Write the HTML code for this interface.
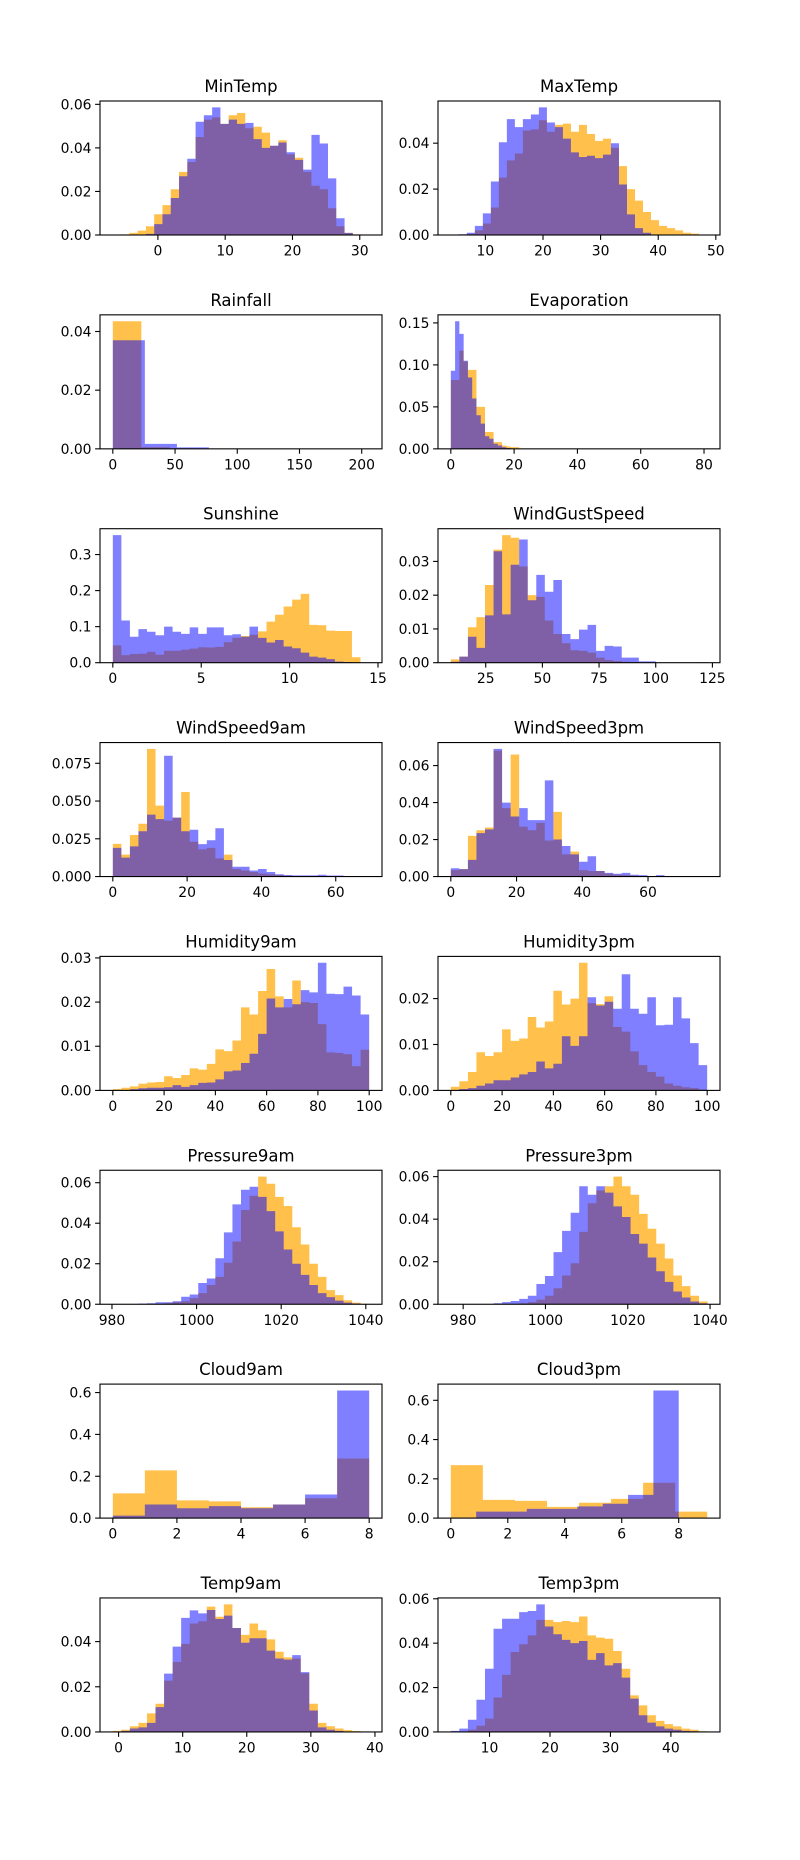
<!DOCTYPE html>
<html><head><meta charset="utf-8"><title>Weather feature histograms</title>
<style>
html,body{margin:0;padding:0;background:#fff;}
svg{display:block;}
text{font-family:"DejaVu Sans","Liberation Sans",sans-serif;fill:#000;}
</style></head>
<body>
<svg id="fig" width="800" height="1860" viewBox="0 0 800 1860" xmlns="http://www.w3.org/2000/svg">
<rect x="0" y="0" width="800" height="1860" fill="#fff"/>
</svg>
<script>
// ---- data (top level) ----
const titles = ["MinTemp","MaxTemp","Rainfall","Evaporation","Sunshine","WindGustSpeed","WindSpeed9am","WindSpeed3pm","Humidity9am","Humidity3pm","Pressure9am","Pressure3pm","Cloud9am","Cloud3pm","Temp9am","Temp3pm"];
// data range [lo, hi] of each variable (axis adds 5% margins)
const dataRanges = [[-6.7,31.4],[4.0,48.5],[0,206],[0,81],[0,14.5],[9.6,122.7],[0,69],[0,78],[0,100],[0,100],[980.2,1040.8],[977.0,1039.3],[0,8],[0,9],[-0.9,39.1],[3.6,46.0]];
// [first bin edge, bin width]
const orangeBins = [[-6.7,1.23],[4.0,1.39],[0,22.9],[0,1.35],[0,0.483],[9.6,3.77],[0,2.3],[0,2.6],[0,3.333],[0,3.333],[980.2,2.02],[977.0,2.08],[0,1],[0,1.125],[-0.9,1.333],[3.6,1.413]];
const blueBins = [[-6.7,1.23],[4.0,1.39],[0,25.75],[0,1.35],[0,0.483],[9.6,3.77],[0,2.3],[0,2.6],[0,3.333],[0,3.333],[980.2,2.02],[977.0,2.08],[0,1],[0,0.889],[-0.9,1.333],[3.6,1.413]];

const minTempOrange = [0,0.0003,0.001,0.002,0.004,0.0095,0.0137,0.021,0.029,0.0335,0.045,0.053,0.054,0.051,0.055,0.056,0.049,0.0497,0.047,0.041,0.0435,0.037,0.0355,0.029,0.0226,0.021,0.0123,0.004,0.001,0.0003,0.0001];
const minTempBlue = [0,0,0,0,0.0005,0.005,0.0095,0.017,0.027,0.035,0.052,0.055,0.0586,0.051,0.053,0.051,0.0515,0.044,0.040,0.041,0.0425,0.038,0.0345,0.030,0.046,0.042,0.026,0.0077,0.001,0,0];
const maxTempOrange = [0,0,0.0005,0.002,0.005,0.012,0.025,0.0325,0.0355,0.0455,0.046,0.050,0.045,0.048,0.0485,0.045,0.048,0.044,0.041,0.042,0.038,0.030,0.020,0.015,0.010,0.0065,0.004,0.003,0.002,0.001,0.0006,0.0002];
const maxTempBlue = [0,0.0003,0.001,0.004,0.0094,0.0233,0.0404,0.0505,0.047,0.0505,0.0525,0.0556,0.049,0.047,0.042,0.036,0.034,0.0345,0.0335,0.035,0.040,0.022,0.009,0.003,0.001,0,0,0,0,0,0,0];
const rainfallOrange = [0.0435,0.0006,0.0002,0.0001,0,0,0,0,0.00005];
const rainfallBlue = [0.037,0.0017,0.0005,0.0001,0,0,0,0];
const evaporationOrange = [0.082,0.082,0.117,0.104,0.094,0.094,0.05,0.05,0.02,0.02,0.008,0.008,0.004,0.003,0.002,0.002];
const evaporationBlue = [0.093,0.152,0.137,0.105,0.085,0.06,0.04,0.03,0.015,0.012,0.006,0.004,0.002,0.001];
const sunshineOrange = [0.048,0.021,0.024,0.025,0.030,0.022,0.033,0.033,0.036,0.039,0.043,0.042,0.044,0.057,0.069,0.074,0.078,0.087,0.114,0.133,0.156,0.175,0.191,0.105,0.104,0.089,0.088,0.088,0.015,0];
const sunshineBlue = [0.354,0.117,0.072,0.093,0.086,0.076,0.100,0.086,0.080,0.098,0.080,0.098,0.098,0.076,0.079,0.072,0.100,0.069,0.056,0.063,0.045,0.040,0.028,0.017,0.014,0.010,0.003,0.002,0.001,0];
const windGustOrange = [0.001,0.0018,0.0105,0.0135,0.023,0.0335,0.0378,0.037,0.0285,0.020,0.0195,0.0125,0.0085,0.0058,0.0037,0.0035,0.003,0.0015,0.0008,0.0005,0.0003,0.0002,0,0,0,0,0,0,0,0];
const windGustBlue = [0.0003,0.0018,0.0077,0.0044,0.014,0.033,0.0143,0.029,0.0365,0.0185,0.026,0.021,0.0245,0.0085,0.007,0.0098,0.0112,0.0035,0.005,0.0048,0.0015,0.0015,0.0004,0.0004,0,0,0,0,0,0.0001];
const wind9Orange = [0.0216,0.0145,0.0275,0.035,0.0845,0.047,0.037,0.039,0.056,0.023,0.018,0.019,0.012,0.0145,0.005,0.004,0.003,0.002,0.0015,0.001,0.0005,0.0004,0.0003,0.0002,0.0001,0,0,0,0,0];
const wind9Blue = [0.019,0.0125,0.020,0.030,0.041,0.038,0.080,0.039,0.030,0.031,0.0215,0.024,0.032,0.011,0.0065,0.0065,0.004,0.005,0.003,0.0015,0.001,0.0008,0.0008,0.0008,0.0012,0.0007,0.0007,0,0,0.0001];
const wind3Orange = [0.0035,0.004,0.022,0.025,0.0265,0.068,0.037,0.066,0.027,0.025,0.029,0.0195,0.035,0.012,0.0135,0.0035,0.003,0.003,0.0015,0.001,0.0008,0.0005,0.0003,0.0002,0,0,0,0,0,0];
const wind3Blue = [0.0045,0.004,0.009,0.0235,0.0255,0.069,0.040,0.0325,0.037,0.0305,0.0305,0.052,0.020,0.0165,0.012,0.008,0.011,0.003,0.002,0.0015,0.002,0.001,0.0008,0.0003,0.0008,0,0,0,0,0.0001];
const hum9Orange = [0.0003,0.0006,0.0009,0.0015,0.0018,0.0019,0.0032,0.0028,0.0035,0.005,0.0047,0.006,0.0093,0.0089,0.0113,0.0188,0.0172,0.0225,0.0275,0.0213,0.0188,0.0249,0.020,0.0198,0.015,0.0086,0.0085,0.0082,0.0055,0.0092];
const hum9Blue = [0,0.0001,0.0003,0.0005,0.0006,0.0006,0.0007,0.0012,0.0008,0.0012,0.0017,0.0018,0.0025,0.0043,0.0045,0.0062,0.0083,0.0128,0.0208,0.0188,0.0207,0.0195,0.0227,0.0222,0.0289,0.0219,0.0218,0.0235,0.0215,0.0172];
const hum3Orange = [0.0008,0.002,0.004,0.0083,0.0075,0.0083,0.0133,0.0108,0.0113,0.016,0.0137,0.015,0.0217,0.0187,0.020,0.0278,0.019,0.0188,0.0205,0.0138,0.0128,0.0085,0.0055,0.004,0.003,0.0015,0.001,0.0007,0.0005,0.0002];
const hum3Blue = [0,0.0003,0.0005,0.001,0.0015,0.0022,0.0022,0.0028,0.0035,0.004,0.0063,0.0048,0.0058,0.0118,0.0097,0.0118,0.0203,0.0185,0.0193,0.0178,0.0253,0.0178,0.0167,0.0203,0.0142,0.0143,0.0203,0.0157,0.0103,0.0055];
const pres9Orange = [0,0,0,0,0,0.0002,0.0005,0.001,0.0015,0.003,0.0055,0.0095,0.0135,0.0205,0.031,0.0465,0.0535,0.063,0.0595,0.053,0.0485,0.038,0.0295,0.020,0.0135,0.007,0.0045,0.002,0.0008,0.0002];
const pres9Blue = [0,0,0,0.0003,0.0005,0.001,0.001,0.0015,0.0037,0.0048,0.0105,0.0127,0.0227,0.0355,0.0493,0.0565,0.058,0.053,0.046,0.036,0.027,0.020,0.0145,0.0095,0.0055,0.0035,0.0018,0.0008,0.0004,0.0001];
const pres3Orange = [0,0,0,0,0,0,0,0,0.0005,0.001,0.0022,0.004,0.0075,0.0135,0.0193,0.034,0.0475,0.0535,0.0555,0.060,0.0555,0.0515,0.0425,0.0355,0.0285,0.0215,0.0135,0.0085,0.004,0.0013];
const pres3Blue = [0,0,0,0,0,0.0005,0.001,0.0015,0.0025,0.004,0.0095,0.0133,0.0245,0.0345,0.043,0.0555,0.0515,0.0555,0.0525,0.046,0.041,0.033,0.0285,0.022,0.0155,0.0105,0.006,0.0032,0.0013,0.0005];
const cloud9Orange = [0.118,0.228,0.085,0.08,0.052,0.065,0.095,0.285];
const cloud9Blue = [0.012,0.065,0.047,0.057,0.047,0.065,0.113,0.610];
const cloud3Orange = [0.27,0.093,0.088,0.057,0.078,0.098,0.18,0.033];
const cloud3Blue = [0.003,0.033,0.033,0.047,0.047,0.06,0.073,0.118,0.65];
const temp9Orange = [0.0005,0.001,0.0025,0.004,0.0082,0.0125,0.0227,0.031,0.039,0.048,0.049,0.0555,0.051,0.0565,0.046,0.043,0.048,0.045,0.041,0.0355,0.033,0.0325,0.026,0.0125,0.004,0.0025,0.0015,0.0008,0.0004,0.0002];
const temp9Blue = [0,0.0005,0.0015,0.002,0.004,0.011,0.0258,0.0378,0.0505,0.0538,0.0525,0.054,0.050,0.0515,0.046,0.0395,0.0415,0.0415,0.036,0.0325,0.032,0.034,0.0265,0.0095,0.002,0.001,0.0005,0,0,0];
const temp3Orange = [0,0.0002,0.001,0.0028,0.006,0.0155,0.0257,0.036,0.0395,0.0435,0.0505,0.0505,0.0495,0.050,0.0495,0.052,0.0435,0.0425,0.042,0.0365,0.0285,0.0165,0.012,0.0075,0.005,0.0035,0.0025,0.0015,0.001,0.0003];
const temp3Blue = [0.0005,0.0015,0.0055,0.0145,0.0285,0.0465,0.051,0.051,0.054,0.0545,0.0575,0.0475,0.044,0.0415,0.040,0.041,0.0325,0.0355,0.030,0.031,0.0245,0.015,0.0075,0.0042,0.0025,0.0015,0.001,0.0005,0.0003,0.0002];

const orangeValues = [minTempOrange,maxTempOrange,rainfallOrange,evaporationOrange,sunshineOrange,windGustOrange,wind9Orange,wind3Orange,hum9Orange,hum3Orange,pres9Orange,pres3Orange,cloud9Orange,cloud3Orange,temp9Orange,temp3Orange];
const blueValues = [minTempBlue,maxTempBlue,rainfallBlue,evaporationBlue,sunshineBlue,windGustBlue,wind9Blue,wind3Blue,hum9Blue,hum3Blue,pres9Blue,pres3Blue,cloud9Blue,cloud3Blue,temp9Blue,temp3Blue];

const xTickValues = [[0,10,20,30],[10,20,30,40,50],[0,50,100,150,200],[0,20,40,60,80],[0,5,10,15],[25,50,75,100,125],[0,20,40,60],[0,20,40,60],[0,20,40,60,80,100],[0,20,40,60,80,100],[980,1000,1020,1040],[980,1000,1020,1040],[0,2,4,6,8],[0,2,4,6,8],[0,10,20,30,40],[10,20,30,40]];
const yTickLabels = [["0.00","0.02","0.04","0.06"],["0.00","0.02","0.04"],["0.00","0.02","0.04"],["0.00","0.05","0.10","0.15"],["0.0","0.1","0.2","0.3"],["0.00","0.01","0.02","0.03"],["0.000","0.025","0.050","0.075"],["0.00","0.02","0.04","0.06"],["0.00","0.01","0.02","0.03"],["0.00","0.01","0.02"],["0.00","0.02","0.04","0.06"],["0.00","0.02","0.04","0.06"],["0.0","0.2","0.4","0.6"],["0.0","0.2","0.4","0.6"],["0.00","0.02","0.04"],["0.00","0.02","0.04","0.06"]];

// ---- layout ----
const NS = "http://www.w3.org/2000/svg";
const svg = document.getElementById("fig");
const AX_W = 282, AX_H = 134, ROW_PITCH = 213.85, TOP0 = 101;
const COL_X = [100, 438];

function mk(tag, attrs, parent) {
  const e = document.createElementNS(NS, tag);
  for (const k in attrs) e.setAttribute(k, attrs[k]);
  parent.appendChild(e);
  return e;
}
function slug(s){ return s.replace(/([a-z0-9])([A-Z])/g,"$1-$2").toLowerCase(); }

for (let i = 0; i < titles.length; i++) {
  const ax = COL_X[i % 2], ay = TOP0 + Math.floor(i / 2) * ROW_PITCH;
  const lo = dataRanges[i][0], hi = dataRanges[i][1], span = hi - lo;
  const x0 = lo - 0.05 * span, x1 = hi + 0.05 * span;
  const ymax = 1.05 * Math.max(Math.max(...orangeValues[i]), Math.max(...blueValues[i]));
  const sx = v => ax + (v - x0) / (x1 - x0) * AX_W;
  const sy = v => ay + AX_H - v / ymax * AX_H;
  const name = slug(titles[i]);
  const base = ay + AX_H;

  const g = mk("g", {}, svg);
  
  

  const series = [["orange", orangeBins[i], orangeValues[i], "#ffa500", 0.7], ["blue", blueBins[i], blueValues[i], "#0000ff", 0.5]];
  for (const [cname, bins, vals, col, op] of series) {
    let d = "";
    for (let k = 0; k < vals.length; k++) {
      if (vals[k] <= 0) continue;
      const a = sx(bins[0] + k * bins[1]), b = sx(bins[0] + (k + 1) * bins[1]);
      d += "M" + a.toFixed(2) + "," + base.toFixed(2) + "V" + sy(vals[k]).toFixed(2) + "H" + b.toFixed(2) + "V" + base.toFixed(2) + "Z";
    }
    const p = mk("path", {d: d, fill: col, "fill-opacity": op}, g);
    
    
  }

  // frame
  const fr = mk("rect", {x: ax, y: ay, width: AX_W, height: AX_H, fill: "none", stroke: "#000", "stroke-width": 1.1}, g);
  
  

  // title
  const t = mk("text", {x: ax + AX_W / 2, y: ay - 9, "text-anchor": "middle", "font-size": 16.5}, g);
  t.textContent = titles[i];
  
  

  // x ticks
  for (const v of xTickValues[i]) {
    const px = sx(v);
    const tl = mk("line", {x1: px, x2: px, y1: base, y2: base + 4.9, stroke: "#000", "stroke-width": 1.1}, g);
    
    
    const tx = mk("text", {x: px, y: base + 20.5, "text-anchor": "middle", "font-size": 13.9}, g);
    tx.textContent = String(v);
    
    
  }
  // y ticks
  for (const lab of yTickLabels[i]) {
    const py = sy(parseFloat(lab));
    const tl = mk("line", {x1: ax - 4.9, x2: ax, y1: py, y2: py, stroke: "#000", "stroke-width": 1.1}, g);
    
    
    const ty = mk("text", {x: ax - 8.5, y: py + 5, "text-anchor": "end", "font-size": 13.9}, g);
    ty.textContent = lab;
    
    
  }
}
</script>
</body></html>
